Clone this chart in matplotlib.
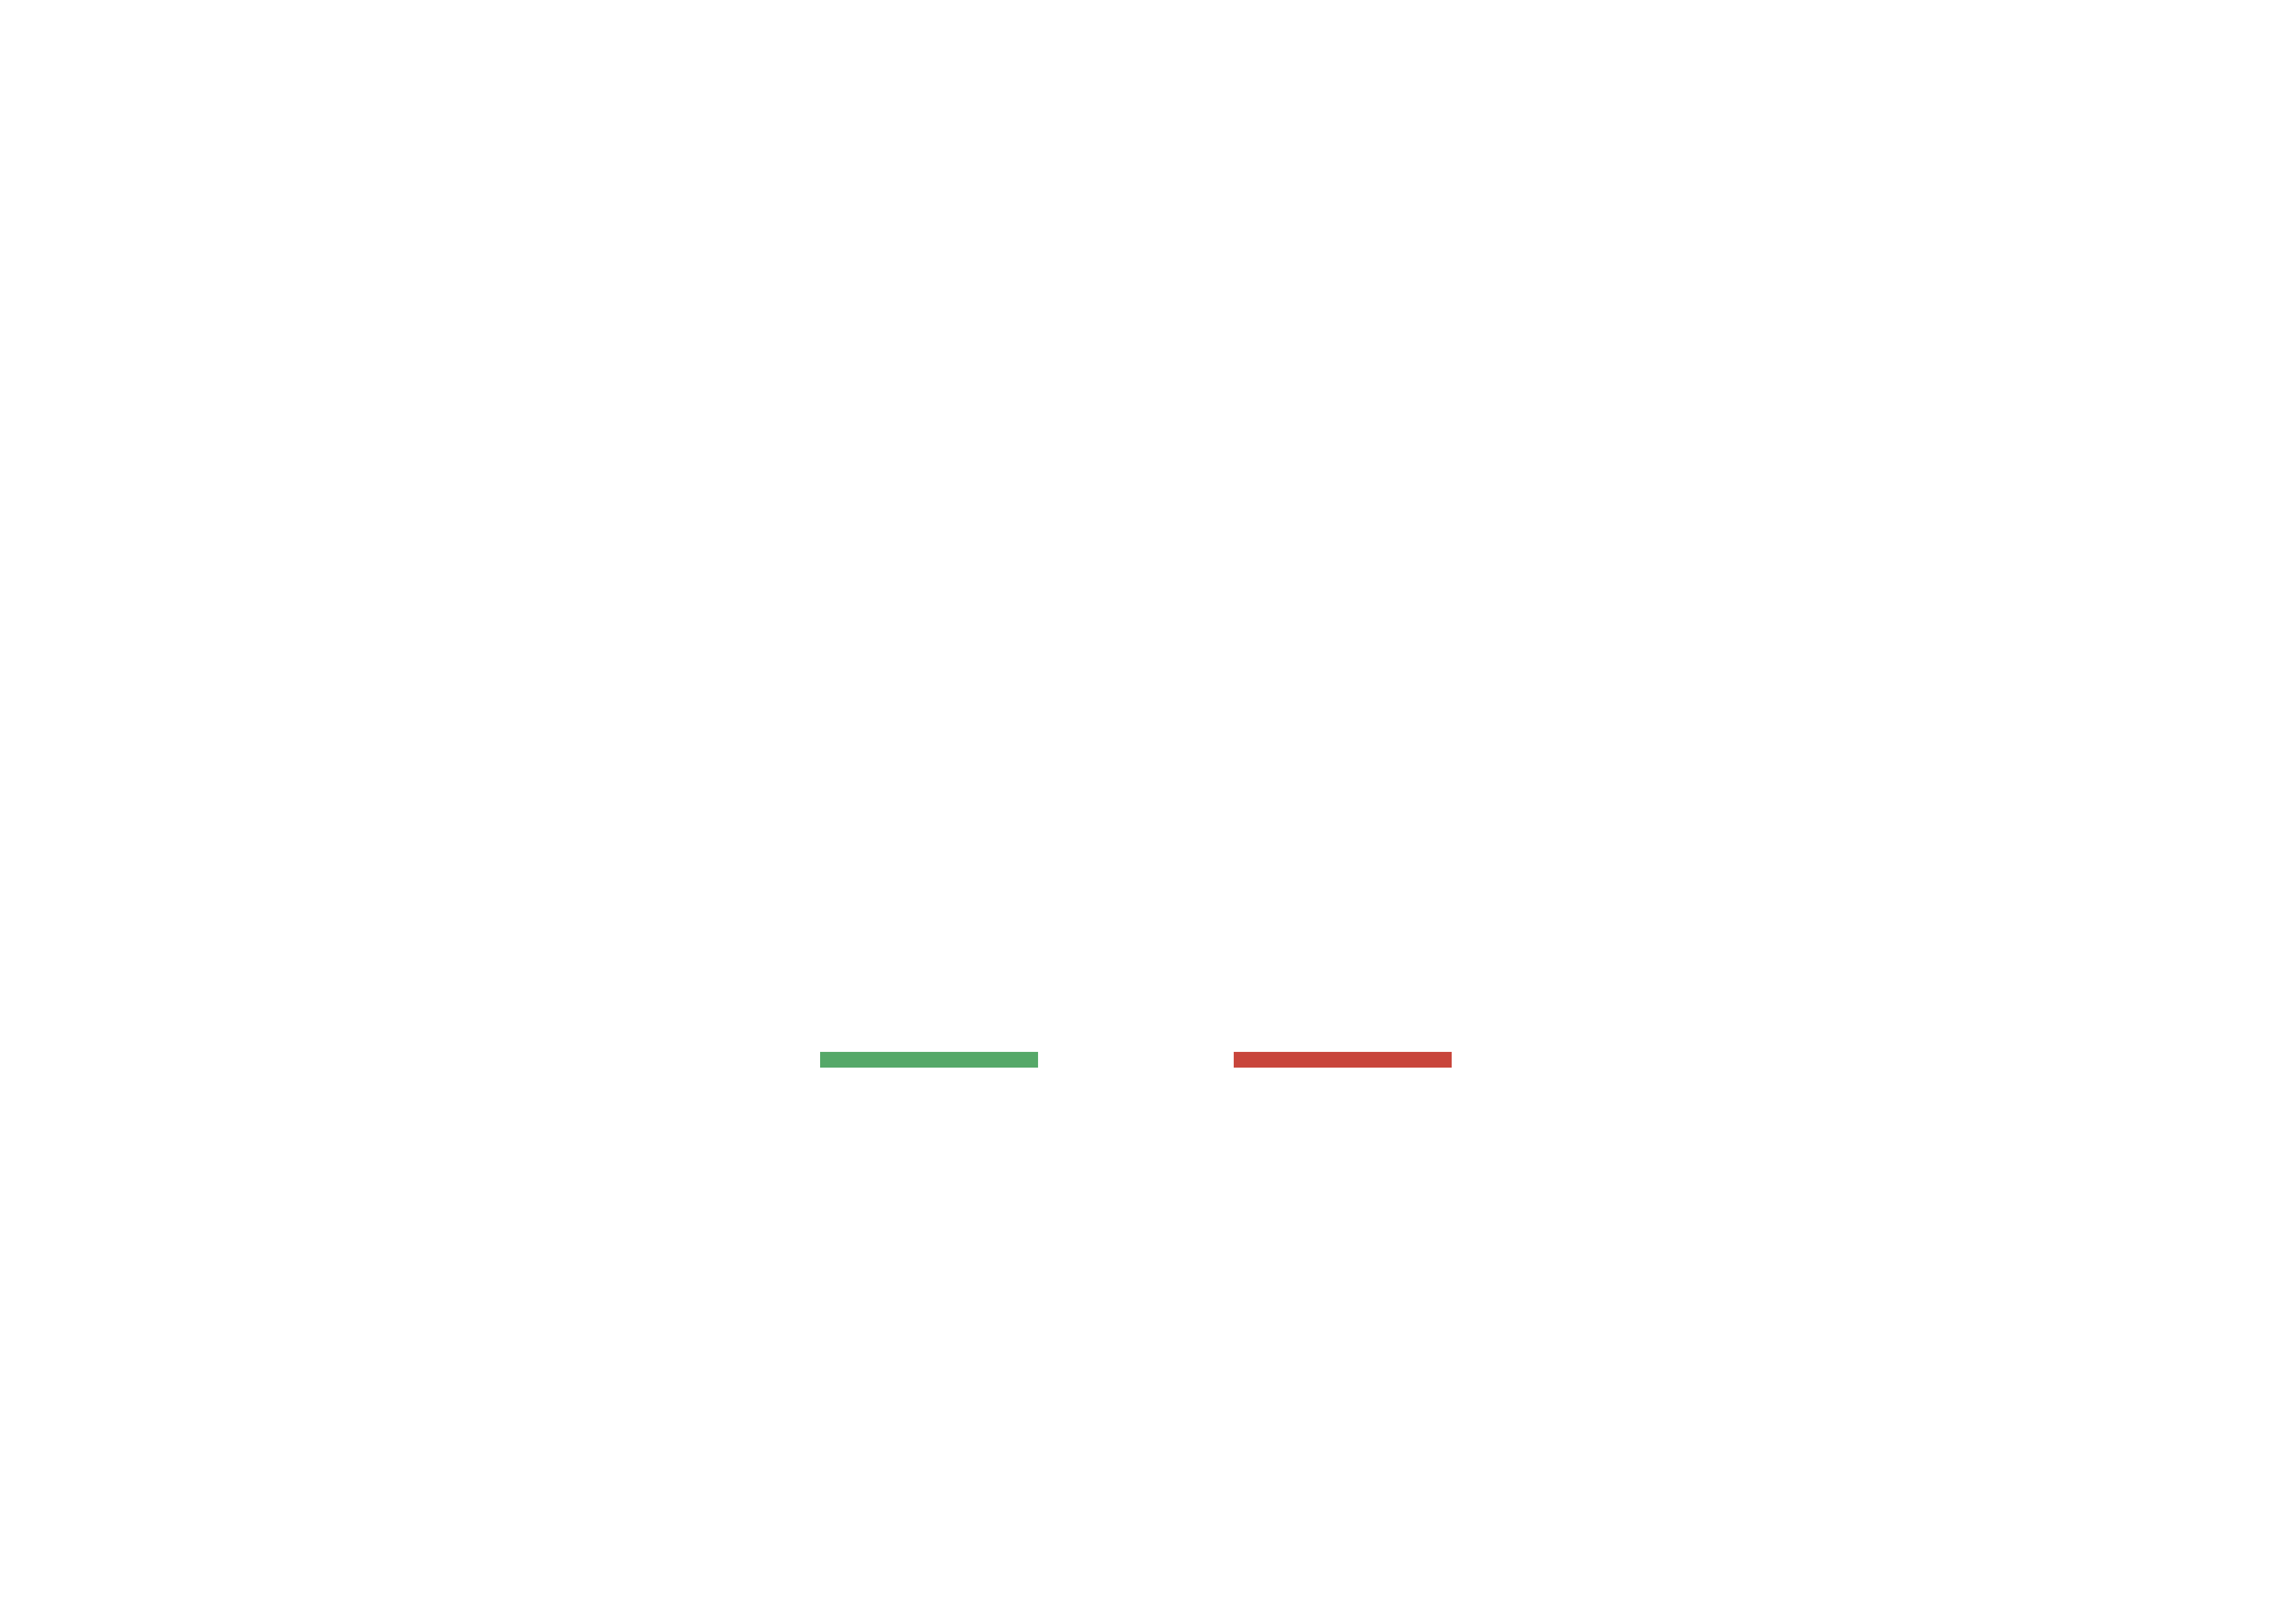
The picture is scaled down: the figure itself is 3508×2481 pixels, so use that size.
import matplotlib
matplotlib.use('Agg')
import matplotlib.pyplot as plt

# two bars, everything else blank
categories = ['A', 'B']
values = [1.0, 1.0]
bar_colors = ['#55A868', '#C8453B']

fig = plt.figure(figsize=(3508 / 300, 2481 / 300), dpi=300)
fig.patch.set_facecolor('white')

# axes placed so the bars land where they sit in the reference
W, H = 3508, 2481
left_px, right_px = 1103.5, 2367.5
bottom_px, top_px = 850, 874
ax = fig.add_axes([left_px / W, bottom_px / H,
                   (right_px - left_px) / W, (top_px - bottom_px) / H])

ax.bar(range(len(categories)), values, width=0.527, color=bar_colors,
       linewidth=0)
ax.set_xlim(-0.5, 1.5)
ax.set_ylim(0, 1)
ax.axis('off')

fig.savefig('out.png', dpi=300, facecolor='white')
